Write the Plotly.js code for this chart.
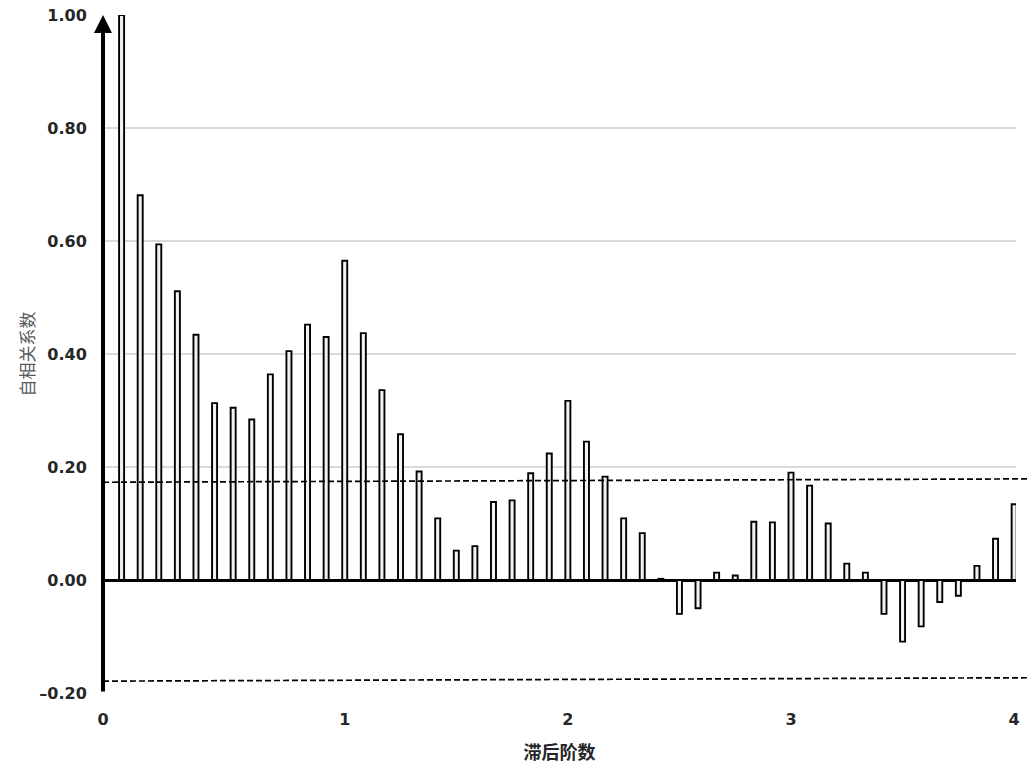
<!DOCTYPE html>
<html>
<head>
<meta charset="utf-8">
<script src="https://cdn.plot.ly/plotly-3.0.1.min.js"></script>
<style>
html,body{margin:0;padding:0;background:#fff;}
#chart{width:1032px;height:773px;}
</style>
</head>
<body>
<div id="chart"></div>
<script>
// Lag index (0..48) and autocorrelation coefficients
const lags = [0,1,2,3,4,5,6,7,8,9,10,11,12,13,14,15,16,17,18,19,20,21,22,23,24,
  25,26,27,28,29,30,31,32,33,34,35,36,37,38,39,40,41,42,43,44,45,46,47,48];
const acf = [1.00, 0.681, 0.594, 0.511, 0.434, 0.313, 0.305, 0.284, 0.364, 0.405,
  0.452, 0.430, 0.565, 0.437, 0.336, 0.258, 0.192, 0.109, 0.052, 0.060,
  0.138, 0.141, 0.189, 0.224, 0.317, 0.245, 0.183, 0.109, 0.083, 0.002,
  -0.060, -0.050, 0.013, 0.008, 0.103, 0.102, 0.190, 0.167, 0.100, 0.029,
  0.013, -0.060, -0.109, -0.082, -0.039, -0.028, 0.025, 0.073, 0.134];
// Confidence bounds (left end, right end)
const confUpper = [0.173, 0.179];
const confLower = [-0.179, -0.173];
// Axis ticks
const xTickVals = [-1, 12, 24, 36, 48];
const xTickText = ['0', '1', '2', '3', '4'];
const yTickVals = [-0.2, 0, 0.2, 0.4, 0.6, 0.8, 1.0];
const yTickText = ['\u20130.20', '0.00', '0.20', '0.40', '0.60', '0.80', '1.00'];
const xTitle = '滞后阶数';
const yTitle = '自相关系数';

const tickFont = {family: 'DejaVu Sans', size: 16, color: '#262626', weight: 'bold'};

const trace = {
  type: 'bar',
  x: lags,
  y: acf,
  width: 0.27,
  marker: {color: '#f2f2f2', line: {color: '#000000', width: 1.9}},
  hoverinfo: 'x+y'
};

const dashLine = (ys) => ({
  type: 'line', xref: 'paper', yref: 'y',
  x0: 0, x1: 1.015, y0: ys[0], y1: ys[1],
  line: {color: '#000000', width: 1.7, dash: '6px,3px'},
  layer: 'above'
});

const layout = {
  width: 1032, height: 773,
  margin: {l: 103, r: 16, t: 15, b: 80},
  paper_bgcolor: '#ffffff', plot_bgcolor: '#ffffff',
  showlegend: false,
  bargap: 0,
  xaxis: {
    range: [-1, 48.1],
    tickvals: xTickVals, ticktext: xTickText,
    tickfont: tickFont,
    ticks: 'outside', ticklen: 12, tickcolor: 'rgba(0,0,0,0)',
    showgrid: false, zeroline: false, showline: false,
    title: {text: xTitle, font: {family: 'Noto Sans CJK SC', size: 18, color: '#262626', weight: 'bold'}, standoff: 18}
  },
  yaxis: {
    range: [-0.2, 1.0],
    tickvals: yTickVals, ticktext: yTickText,
    tickfont: tickFont,
    ticks: 'outside', ticklen: 12, tickcolor: 'rgba(0,0,0,0)',
    showgrid: true, gridcolor: '#d9d9d9', gridwidth: 1.5,
    zeroline: true, zerolinecolor: '#000000', zerolinewidth: 3,
    showline: false,
    title: {text: yTitle, font: {family: 'Noto Sans CJK SC', size: 17, color: '#595959'}, standoff: 0}
  },
  shapes: [dashLine(confUpper), dashLine(confLower)],
  annotations: [{
    xref: 'x', yref: 'y', axref: 'x', ayref: 'y',
    x: -1, y: 1.0, ax: -1, ay: -0.2,
    text: '', showarrow: true,
    arrowhead: 2, arrowsize: 0.9, arrowwidth: 4, arrowcolor: '#000000',
    standoff: 0, startstandoff: 0
  }]
};

Plotly.newPlot('chart', [trace], layout, {displayModeBar: false, staticPlot: true});
</script>
</body>
</html>
